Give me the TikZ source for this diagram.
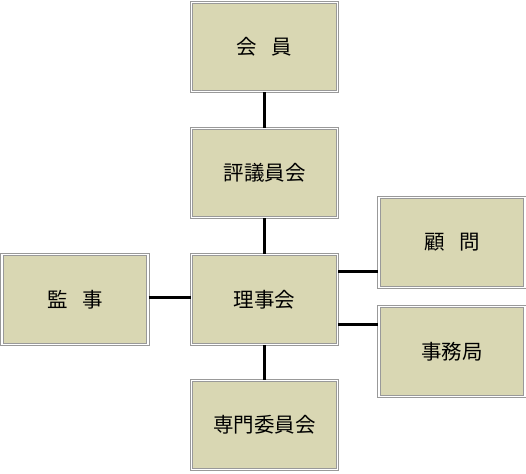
\documentclass[tikz,border=0pt]{standalone}
\usepackage{fontspec}
\newfontfamily\jpfont{Noto Sans CJK JP}
\usetikzlibrary{calc}
\definecolor{BoxFill}{HTML}{D9D7B3}
\definecolor{BoxEdge}{HTML}{999999}
\newcommand{\gap}{\hspace{0.7em}}

\begin{document}
\begin{tikzpicture}[x=1pt,y=-1pt,line cap=butt,line join=miter,
  orgbox/.style={preaction={fill=BoxFill},preaction={draw=BoxEdge,line width=3.4pt},
    draw=white,line width=1.2pt,
    minimum width=146pt,minimum height=89.5pt,inner sep=0pt,
    font=\jpfont\fontsize{20.5}{24}\selectfont},
  link/.style={line width=3pt,black}]

% Canvas (pixel units, y downward)
\useasboundingbox (0,0) rectangle (526,473);

% Centre column
\node[orgbox] (kaiin)  at (264.5,47)    {会\gap 員};
\node[orgbox] (hyogi)  at (264.5,173)   {評議員会};
\node[orgbox] (riji)   at (264.5,299.5) {理事会};
\node[orgbox] (senmon) at (264.5,425)   {専門委員会};

% Side boxes
\node[orgbox] (kanji) at (75,299.5)  {監\gap 事};
\node[orgbox] (komon) at (452,242.5) {顧\gap 問};
\node[orgbox] (jimu)  at (452,351.5) {事務局};

% ---- CONNECTORS ----
\draw[link] (kaiin) -- (hyogi);
\draw[link] (hyogi) -- (riji);
\draw[link] (riji) -- (senmon);
\draw[link] ([yshift=2.5pt]kanji.east) coordinate (k1) -- (k1 -| riji.west);

% Right side lines leave 理事会 off centre
\draw[link] ([yshift=28.5pt]riji.east) coordinate (r1) -- (r1 -| komon.west);
\draw[link] ([yshift=-24.5pt]riji.east) coordinate (r2) -- (r2 -| jimu.west);

\end{tikzpicture}
\end{document}
